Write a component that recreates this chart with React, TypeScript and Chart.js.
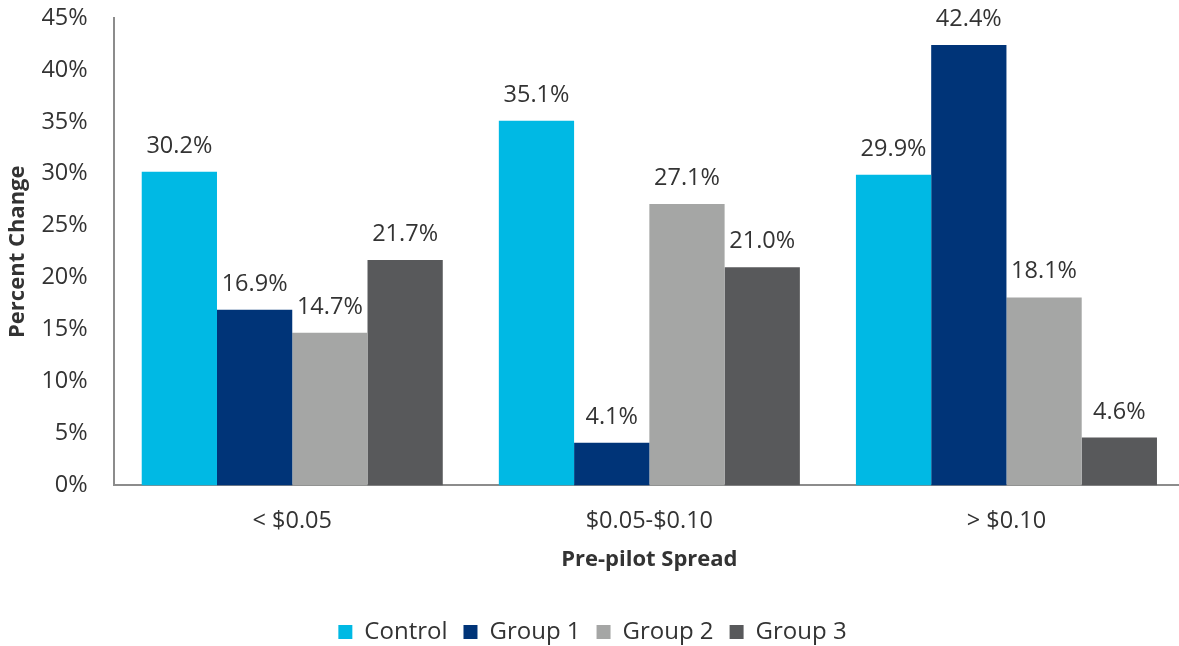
import React, { useEffect, useRef } from "react";
import { Chart, registerables } from "chart.js";

Chart.register(...registerables);

const categories = ["< $0.05", "$0.05-$0.10", "> $0.10"];
const seriesNames = ["Control", "Group 1", "Group 2", "Group 3"];
const controlValues = [30.2, 35.1, 29.9];
const group1Values = [16.9, 4.1, 42.4];
const group2Values = [14.7, 27.1, 18.1];
const group3Values = [21.7, 21.0, 4.6];
const seriesColors = ["#00B9E4", "#003478", "#A5A6A5", "#58595B"];
const yTicks = [0, 5, 10, 15, 20, 25, 30, 35, 40, 45];

const FONT = "'Open Sans', sans-serif";
const TEXT_COLOR = "#333333";

const dataLabelPlugin = {
  id: "dataLabels",
  afterDatasetsDraw(chart: any) {
    const ctx = chart.ctx;
    ctx.save();
    ctx.font = `23.5px ${FONT}`;
    ctx.fillStyle = TEXT_COLOR;
    ctx.textAlign = "center";
    ctx.textBaseline = "alphabetic";
    chart.data.datasets.forEach((ds: any, i: number) => {
      const meta = chart.getDatasetMeta(i);
      meta.data.forEach((bar: any, j: number) => {
        const v = ds.data[j];
        ctx.fillText(v.toFixed(1) + "%", bar.x, bar.y - 19);
      });
    });
    ctx.restore();
  },
};

export default function App() {
  const canvasRef = useRef<HTMLCanvasElement | null>(null);

  useEffect(() => {
    document.body.style.margin = "0";
    document.body.style.overflow = "hidden";
    const canvas = canvasRef.current;
    if (!canvas) return;
    const values = [controlValues, group1Values, group2Values, group3Values];
    const chart = new Chart(canvas, {
      type: "bar",
      data: {
        labels: categories,
        datasets: seriesNames.map((name, i) => ({
          label: name,
          data: values[i],
          backgroundColor: seriesColors[i],
          borderWidth: 0,
          categoryPercentage: 0.843,
          barPercentage: 1.0,
        })),
      },
      options: {
        responsive: false,
        animation: false,
        layout: { padding: { top: 18, right: 5, left: 0, bottom: -8 } },
        plugins: {
          tooltip: { enabled: false },
          legend: {
            position: "bottom",
            labels: {
              font: { family: FONT, size: 24 },
              color: TEXT_COLOR,
              boxWidth: 14,
              boxHeight: 14,
              padding: 16,
            },
          },
        },
        scales: {
          x: {
            grid: { display: false, drawTicks: false },
            border: { display: true, color: "#8c8c8c", width: 2 },
            ticks: {
              font: { family: FONT, size: 23.5 },
              color: TEXT_COLOR,
              padding: 22,
            },
            title: {
              display: true,
              text: "Pre-pilot Spread",
              font: { family: FONT, size: 22, weight: "bold" },
              color: TEXT_COLOR,
              padding: { top: -11, bottom: 31 },
            },
          },
          y: {
            min: 0,
            max: 45,
            afterBuildTicks(scale: any) {
              scale.ticks = yTicks.map((v) => ({ value: v }));
            },
            afterFit(scale: any) {
              scale.paddingTop = 0;
              scale.paddingBottom = 0;
            },
            grid: { display: false, drawTicks: false },
            border: { display: true, color: "#8c8c8c", width: 2 },
            ticks: {
              font: { family: FONT, size: 23.5 },
              color: TEXT_COLOR,
              padding: 26,
              callback: (v: any) => v + "%",
            },
            title: {
              display: true,
              text: "Percent Change",
              font: { family: FONT, size: 22, weight: "bold" },
              color: TEXT_COLOR,
              padding: { top: 5, bottom: -16 },
            },
          },
        },
      },
      plugins: [dataLabelPlugin],
    });
    return () => chart.destroy();
  }, []);

  return (
    <div style={{ position: "fixed", left: 0, top: 0, width: 1190, height: 646, background: "#fff" }}>
      <canvas ref={canvasRef} width={1190} height={646} />
    </div>
  );
}
